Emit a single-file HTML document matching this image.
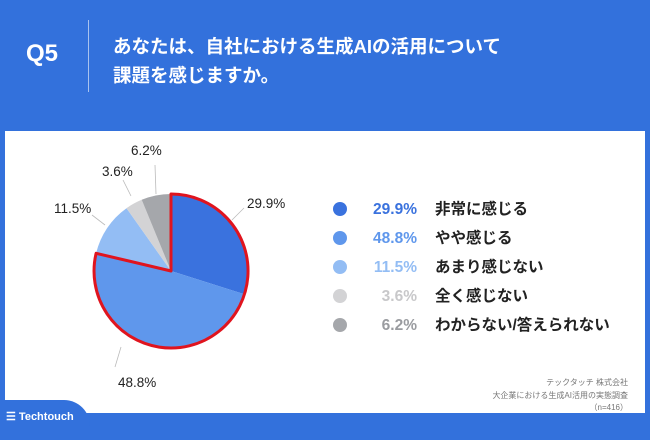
<!DOCTYPE html>
<html><head><meta charset="utf-8"><style>
body{margin:0;width:650px;height:430px;background:#3371dc;position:relative;overflow:hidden;font-family:"Liberation Sans","Noto Sans CJK JP",sans-serif}
.q{position:absolute;left:26px;top:40px;color:#fff;font-size:24px;font-weight:bold}
.sep{position:absolute;left:88px;top:20px;width:1px;height:72px;background:#a9c3ef}
.t{position:absolute;left:113px;top:32px;color:#fff;font-size:18.5px;font-weight:bold;line-height:29px}
.panel{position:absolute;left:5px;top:131px;width:640px;height:282px;background:#fff}
.tab{position:absolute;left:0;top:400px;width:90px;height:40px;background:#3371dc;border-top-right-radius:26px}
.logo{position:absolute;left:6px;top:410px;color:#fff;font-size:11px;font-weight:bold}
.src{position:absolute;right:22px;top:377px;color:#777;font-size:8px;text-align:right;line-height:12.5px}
.lg{position:absolute;left:333px;font-size:15.5px;font-weight:bold;color:#222;height:20px;line-height:20px}
.lg i{display:inline-block;width:14px;height:14px;border-radius:50%;vertical-align:-2px}
.lg b{display:inline-block;width:62px;margin-left:8px;text-align:right}
.lg span{margin-left:18px}
.pl{position:absolute;font-size:13.5px;color:#222}
</style></head><body>
<div class="q">Q5</div><div class="sep"></div>
<div class="t">あなたは、自社における生成AIの活用について<br>課題を感じますか。</div>
<div class="panel"></div>
<svg style="position:absolute;left:0;top:0" width="650" height="430">
<g stroke="#bbb" stroke-width="0.8"><line x1="232" y1="220" x2="244" y2="208"/><line x1="115" y1="367" x2="121" y2="347"/><line x1="105" y1="225" x2="92" y2="215"/><line x1="131" y1="196" x2="123" y2="180"/><line x1="156" y1="194" x2="155" y2="165"/></g>
<path d="M171 271 L171 194 A77 77 0 0 1 244.4 294.3Z" fill="#3a72de"/>
<path d="M171 271 L244.4 294.3 A77 77 0 0 1 96.1 253.3Z" fill="#5f97ec"/>
<path d="M171 271 L96.1 253.3 A77 77 0 0 1 126.5 208.2Z" fill="#93bdf4"/>
<path d="M171 271 L126.5 208.2 A77 77 0 0 1 141.7 199.8Z" fill="#d3d3d5"/>
<path d="M171 271 L141.7 199.8 A77 77 0 0 1 171 194Z" fill="#a5a7ab"/>
<path d="M171 271 L171 194 A77 77 0 1 1 96.1 253.3Z" fill="none" stroke="#e0141e" stroke-width="3" stroke-linejoin="round"/>
</svg>
<div class="pl" style="left:247px;top:196px">29.9%</div>
<div class="pl" style="left:118px;top:375px">48.8%</div>
<div class="pl" style="left:54px;top:201px">11.5%</div>
<div class="pl" style="left:102px;top:164px">3.6%</div>
<div class="pl" style="left:131px;top:143px">6.2%</div>
<div class="lg" style="top:200px"><i style="background:#3a72de"></i><b style="color:#3a72de">29.9%</b><span>非常に感じる</span></div>
<div class="lg" style="top:229px"><i style="background:#5f97ec"></i><b style="color:#5f97ec">48.8%</b><span>やや感じる</span></div>
<div class="lg" style="top:258px"><i style="background:#93bdf4"></i><b style="color:#93bdf4">11.5%</b><span>あまり感じない</span></div>
<div class="lg" style="top:287px"><i style="background:#d3d3d5"></i><b style="color:#c8c8ca">3.6%</b><span>全く感じない</span></div>
<div class="lg" style="top:316px"><i style="background:#a5a7ab"></i><b style="color:#9a9ca0">6.2%</b><span>わからない/答えられない</span></div>
<div class="src">テックタッチ 株式会社<br>大企業における生成AI活用の実態調査<br>（n=416）</div>
<div class="tab"></div>
<div class="logo">☰ Techtouch</div>
</body></html>
